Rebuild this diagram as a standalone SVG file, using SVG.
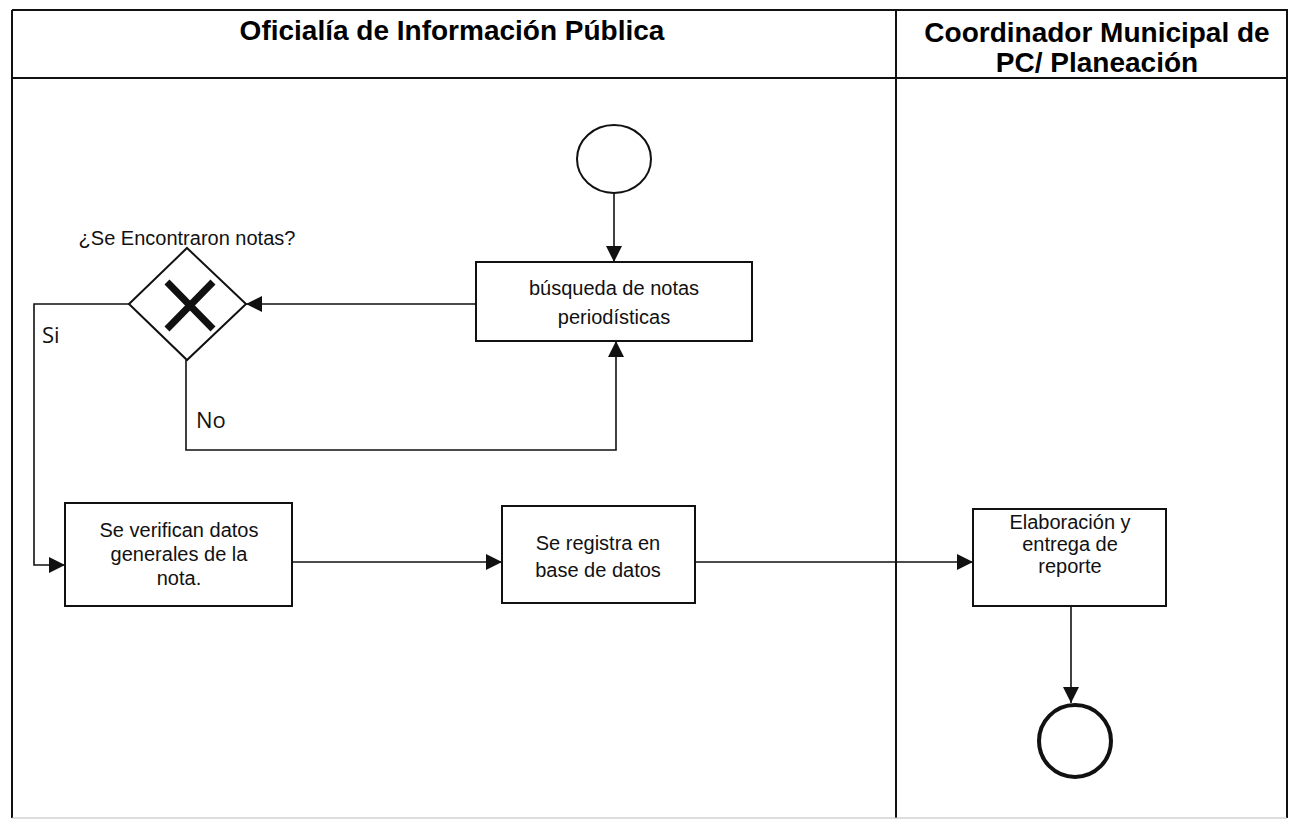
<svg xmlns="http://www.w3.org/2000/svg" width="1289" height="820" viewBox="0 0 1289 820">
<style>
.lane{fill:none;stroke:#111;stroke-width:2}
.box{fill:#fff;stroke:#111;stroke-width:2}
.ln{fill:none;stroke:#111;stroke-width:1.6}
.t{font-family:"Liberation Sans",Arial,sans-serif;font-size:20px;fill:#111;text-anchor:middle}
.h{font-family:"Liberation Sans",Arial,sans-serif;font-size:28px;font-weight:bold;fill:#000;text-anchor:middle}
.lbl{font-family:"Open Sans","Liberation Sans",sans-serif;font-size:22px;fill:#111}
</style>
<defs>
<marker id="ah" viewBox="0 0 10 10" refX="10" refY="5" markerWidth="16" markerHeight="16" markerUnits="userSpaceOnUse" orient="auto">
<path d="M0,0 L10,5 L0,10 z" fill="#111"/>
</marker>
</defs>
<rect x="0" y="0" width="1289" height="820" fill="#fff"/>
<g id="lanes">
<path class="lane" d="M12,10 H1287 V818 M12,10 V818 M12,78 H1287 M896,10 V818"/>
<path d="M12,818 H1287" stroke="#bbb" stroke-width="1" fill="none"/>
<text class="h" x="452" y="40">Oficialía de Información Pública</text>
<text class="h" x="1097" y="42">Coordinador Municipal de</text>
<text class="h" x="1097" y="72">PC/ Planeación</text>
</g>
<g id="connectors">
<path class="ln" d="M614,193 V262" marker-end="url(#ah)"/>
<path class="ln" d="M476,304 H246" marker-end="url(#ah)"/>
<path class="ln" d="M186,360 V450 H616 V341" marker-end="url(#ah)"/>
<path class="ln" d="M129,304 H34 V565 H65" marker-end="url(#ah)"/>
<path class="ln" d="M292,562 H502" marker-end="url(#ah)"/>
<path class="ln" d="M695,562 H973" marker-end="url(#ah)"/>
<path class="ln" d="M1071,606 V703" marker-end="url(#ah)"/>
<text class="lbl" x="42" y="343">Si</text>
<text class="lbl" x="196" y="428">No</text>
</g>
<g id="start">
<ellipse cx="614" cy="159" rx="37" ry="34" fill="#fff" stroke="#111" stroke-width="2"/>
</g>
<g id="busqueda">
<rect class="box" x="476" y="262" width="276" height="79"/>
<text class="t" x="614" y="295">búsqueda de notas</text>
<text class="t" x="614" y="324">periodísticas</text>
</g>
<g id="gateway">
<text class="t" x="187" y="245">¿Se Encontraron notas?</text>
<path d="M187,248 L246,304 L187,360 L129,304 z" fill="#fff" stroke="#111" stroke-width="2"/>
<path d="M167,282 L213,329 M213,282 L167,329" stroke="#111" stroke-width="7" fill="none"/>
</g>
<g id="verifican">
<rect class="box" x="65" y="503" width="227" height="103"/>
<text class="t" x="179" y="537">Se verifican datos</text>
<text class="t" x="179" y="561">generales de la</text>
<text class="t" x="179" y="585">nota.</text>
</g>
<g id="registra">
<rect class="box" x="502" y="506" width="193" height="97"/>
<text class="t" x="598" y="550">Se registra en</text>
<text class="t" x="598" y="577">base de datos</text>
</g>
<g id="elaboracion">
<rect class="box" x="973" y="509" width="193" height="97"/>
<text class="t" x="1070" y="529">Elaboración y</text>
<text class="t" x="1070" y="551">entrega de</text>
<text class="t" x="1070" y="573">reporte</text>
</g>
<g id="end">
<circle cx="1075" cy="741" r="36" fill="#fff" stroke="#111" stroke-width="4"/>
</g>
</svg>
